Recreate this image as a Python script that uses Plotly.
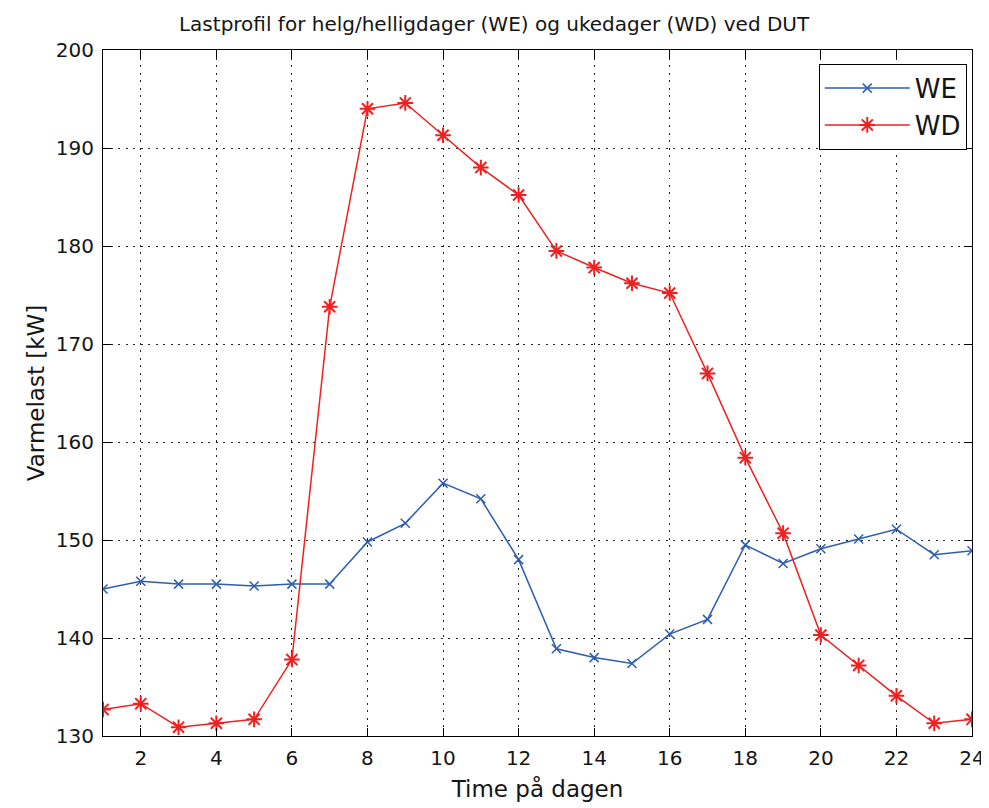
import plotly.graph_objects as go

hours = list(range(1, 25))
we_load = [145.0, 145.8, 145.5, 145.5, 145.3, 145.5, 145.5, 149.8, 151.7, 155.8, 154.2, 148.0,
           138.9, 138.0, 137.4, 140.4, 141.9, 149.5, 147.6, 149.1, 150.1, 151.1, 148.5, 148.9]
wd_load = [132.7, 133.3, 130.9, 131.3, 131.7, 137.8, 173.8, 194.0, 194.6, 191.3, 188.0, 185.2,
           179.5, 177.8, 176.2, 175.2, 167.0, 158.4, 150.7, 140.3, 137.2, 134.1, 131.3, 131.7]
x_ticks = list(range(2, 25, 2))
y_ticks = list(range(130, 201, 10))

FONT = "DejaVu Sans, Liberation Sans, sans-serif"
BLUE = "#2F5DB0"
RED = "#F02020"
TXT = "#151515"

fig = go.Figure()
fig.add_trace(go.Scatter(x=hours, y=we_load, name="WE", mode="lines+markers", legendgroup="we",
                         line=dict(color=BLUE, width=1.5),
                         marker=dict(symbol="x-thin-open", size=9, color=BLUE,
                                     line=dict(color=BLUE, width=1.5))))
fig.add_trace(go.Scatter(x=hours, y=wd_load, name="WD", mode="lines+markers", legendgroup="wd",
                         line=dict(color=RED, width=1.5),
                         marker=dict(symbol="asterisk-open", size=13, color=RED,
                                     line=dict(color=RED, width=2))))

axis_common = dict(showline=True, linecolor="black", linewidth=1, mirror="ticks",
                   ticks="inside", ticklen=8, tickcolor="black",
                   showgrid=True, gridcolor="#222222", gridwidth=1, griddash="2px,5.5px",
                   zeroline=False, ticklabelstandoff=4,
                   tickfont=dict(family=FONT, size=20, color=TXT))

fig.update_xaxes(range=[1, 24], tickvals=x_ticks,
                 title=dict(text="Time på dagen", font=dict(family=FONT, size=23, color=TXT),
                            standoff=11),
                 **axis_common)
fig.update_yaxes(range=[130, 200], tickvals=y_ticks,
                 title=dict(text="Varmelast [kW]", font=dict(family=FONT, size=23, color=TXT),
                            standoff=4),
                 **axis_common)

fig.update_layout(
    width=989, height=808,
    margin=dict(l=95, r=22, t=42, b=80),
    paper_bgcolor="white", plot_bgcolor="white",
    title=dict(text="Lastprofil for helg/helligdager (WE) og ukedager (WD) ved DUT",
               x=0.4915, xref="container", xanchor="center", y=0.98, yref="container",
               yanchor="middle",
               font=dict(family=FONT, size=20, color=TXT)),
    legend=dict(x=0.994, xanchor="right", y=0.98, yanchor="top",
                bgcolor="white", bordercolor="black", borderwidth=1,
                itemwidth=85, tracegroupgap=0,
                font=dict(family=FONT, size=26, color=TXT)),
    showlegend=True,
)

fig.write_html("out.html")
